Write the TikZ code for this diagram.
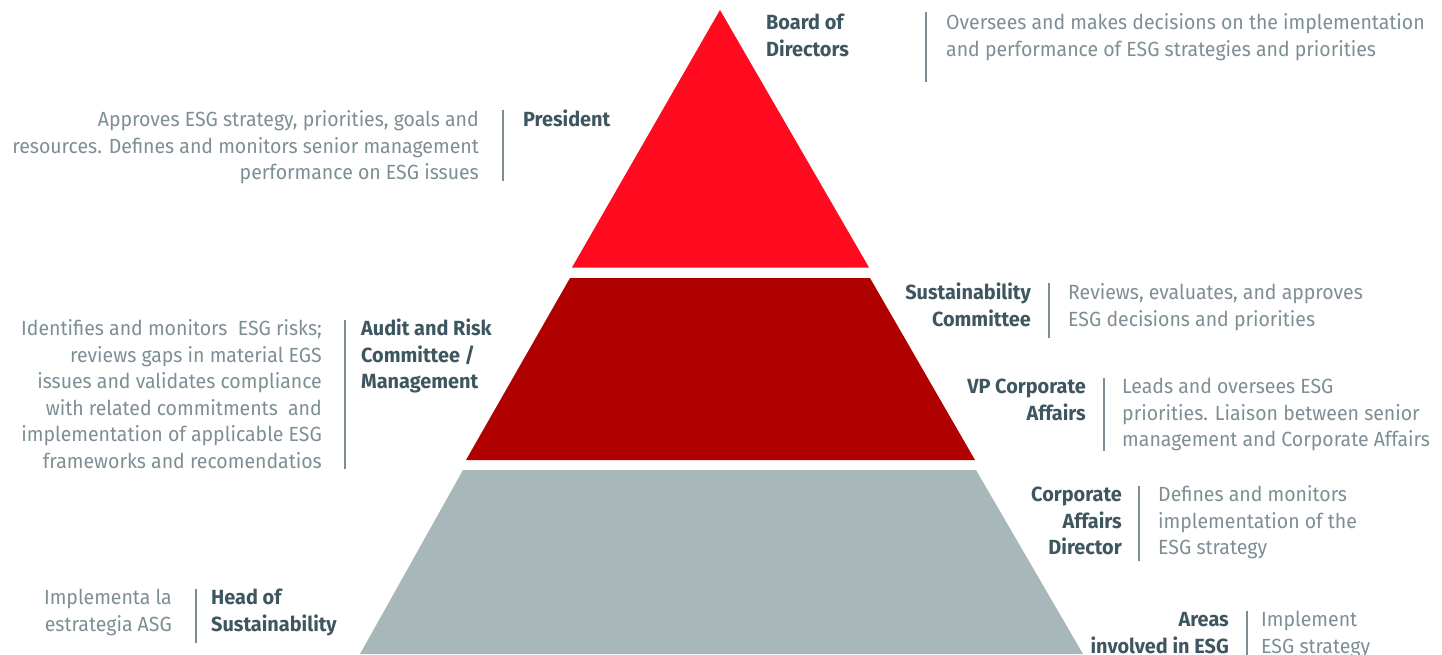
\documentclass[tikz,border=0pt]{standalone}
\usepackage{fontspec}
\setmainfont{Fira Sans}[FakeStretch=0.95, BoldFeatures={FakeStretch=0.97}]
\definecolor{topred}{HTML}{FF0A1E}
\definecolor{midred}{HTML}{B00000}
\definecolor{botgray}{HTML}{A8B8BA}
\definecolor{labc}{HTML}{3E5660}
\definecolor{descc}{HTML}{7D8E94}
\definecolor{sepc}{HTML}{7E8E94}
\tikzset{
  lab/.style={font=\bfseries\fontsize{20.5}{26.5}\selectfont, text=labc, inner sep=0pt},
  desc/.style={font=\fontsize{20.5}{26.5}\selectfont, text=descc, inner sep=0pt},
  sepline/.style={draw=sepc, line width=1.4pt},
}
\begin{document}
\begin{tikzpicture}[x=1pt,y=-1pt]
\useasboundingbox (0,0) rectangle (1442,654);
% pyramid
\fill[topred] (720,10) -- (869,267.5) -- (572,267.5) -- cycle;
\fill[midred] (570,278) -- (870,278) -- (975,460) -- (466,460) -- cycle;
\fill[botgray] (463,470) -- (976,470) -- (1083,654) -- (360,654) -- cycle;

% (base anchors refer to the last line of each node)
% Board of Directors
\node[lab, anchor=base west, align=left] (board) at (766,56) {Board of\\Directors};
\coordinate (s1a) at (926,12); \coordinate (s1b) at (926,82);
\draw[sepline] (s1a) -- (s1b);
\node[desc, anchor=base west, align=left] (boardd) at (946,56) {Oversees and makes decisions on the implementation\\and performance of ESG strategies and priorities};

% President
\node[lab, anchor=base west, align=left] (pres) at (523,126.5) {President};
\coordinate (s2a) at (503,110); \coordinate (s2b) at (503,181);
\draw[sepline] (s2a) -- (s2b);
\node[desc, anchor=base east, align=right] (presd) at (479,179.5) {Approves ESG strategy, priorities, goals and\\resources. Defines and monitors senior management\\performance on ESG issues};

% Sustainability Committee
\node[lab, anchor=base east, align=right] (susc) at (1031,326) {Sustainability\\Committee};
\coordinate (s3a) at (1049,283); \coordinate (s3b) at (1049,338);
\draw[sepline] (s3a) -- (s3b);
\node[desc, anchor=base west, align=left] (suscd) at (1068,326) {Reviews, evaluates, and approves\\ESG decisions and priorities};

% Audit and Risk
\node[lab, anchor=base west, align=left] (audit) at (361,388.5) {Audit and Risk\\Committee /\\Management};
\coordinate (s4a) at (345,320); \coordinate (s4b) at (345,469);
\draw[sepline] (s4a) -- (s4b);
\node[desc, anchor=base east, align=right] (auditd) at (322,468) {Identifies and monitors\ \ ESG risks;\\reviews gaps in material EGS\\issues and validates compliance\\with related commitments\ \ and\\implementation of applicable ESG\\frameworks and recomendatios};

% VP Corporate Affairs
\node[lab, anchor=base east, align=right] (vp) at (1086,420) {VP Corporate\\Affairs};
\coordinate (s5a) at (1104,378); \coordinate (s5b) at (1104,451);
\draw[sepline] (s5a) -- (s5b);
\node[desc, anchor=base west, align=left] (vpd) at (1122,446.5) {Leads and oversees ESG\\priorities. Liaison between senior\\management and Corporate Affairs};

% Corporate Affairs Director
\node[lab, anchor=base east, align=right] (cad) at (1122,554.5) {Corporate\\Affairs\\Director};
\coordinate (s6a) at (1139,486); \coordinate (s6b) at (1139,561);
\draw[sepline] (s6a) -- (s6b);
\node[desc, anchor=base west, align=left] (cadd) at (1158,554.5) {Defines and monitors\\implementation of the\\ESG strategy};

% Head of Sustainability
\node[lab, anchor=base west, align=left] (hos) at (211,631) {Head of\\Sustainability};
\coordinate (s7a) at (196,589); \coordinate (s7b) at (196,643);
\draw[sepline] (s7a) -- (s7b);
\node[desc, anchor=base east, align=right] (hosd) at (172,631) {Implementa la\\estrategia ASG};

% Areas involved in ESG
\node[lab, anchor=base east, align=right] (areas) at (1229,653) {Areas\\involved in ESG};
\coordinate (s8a) at (1247,611); \coordinate (s8b) at (1247,660);
\draw[sepline] (s8a) -- (s8b);
\node[desc, anchor=base west, align=left] (areasd) at (1261,653) {Implement\\ESG strategy};
\end{tikzpicture}
\end{document}
